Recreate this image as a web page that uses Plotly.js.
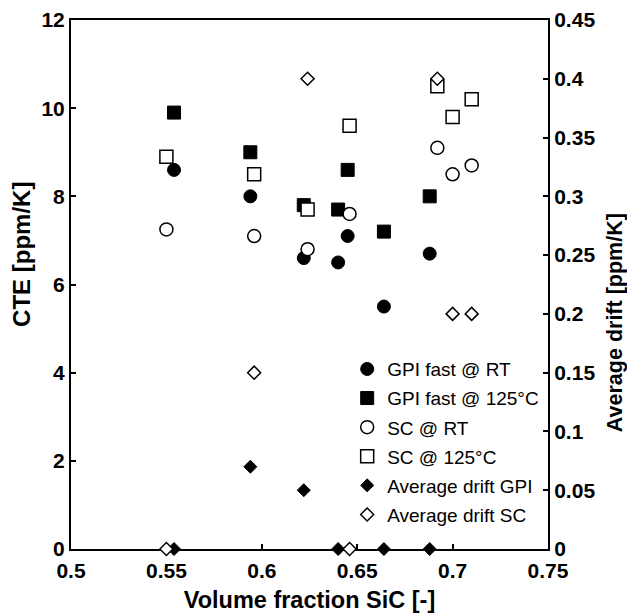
<!DOCTYPE html>
<html>
<head>
<meta charset="utf-8">
<script src="https://cdn.plot.ly/plotly-3.0.1.min.js"></script>
<style>html,body{margin:0;padding:0;background:#fff;}#chart{width:627px;height:613px;}</style>
</head>
<body>
<div id="chart"></div>
<script>
// GPI fast samples
var gpiX = [0.554, 0.594, 0.622, 0.640, 0.645, 0.664, 0.688];
var gpiRT = [8.6, 8.0, 6.6, 6.5, 7.1, 5.5, 6.7];
var gpi125 = [9.9, 9.0, 7.8, 7.7, 8.6, 7.2, 8.0];
// SC samples
var scX = [0.550, 0.596, 0.624, 0.646, 0.692, 0.700, 0.710];
var scRT = [7.25, 7.1, 6.8, 7.6, 9.1, 8.5, 8.7];
var sc125 = [8.9, 8.5, 7.7, 9.6, 10.5, 9.8, 10.2];
// Average drift
var driftGpiX = [0.554, 0.594, 0.622, 0.640, 0.664, 0.688];
var driftGpi = [0, 0.07, 0.05, 0, 0, 0];
var driftScX = [0.550, 0.596, 0.624, 0.646, 0.692, 0.700, 0.710];
var driftSc = [0, 0.15, 0.40, 0, 0.40, 0.20, 0.20];
var names = ['GPI fast @ RT', 'GPI fast @ 125°C', 'SC @ RT', 'SC @ 125°C', 'Average drift GPI', 'Average drift SC'];
var yTitleLeft = 'CTE [ppm/K]';
var yTitleRight = 'Average drift [ppm/K]';
var xTitle = 'Volume fraction SiC [-]';

var FONT = 'Liberation Sans, Arial, sans-serif';
function mk(sym, filled, size) {
  return {symbol: sym, size: size, color: filled ? '#000' : '#fff',
          line: {color: '#000', width: filled ? 1 : 1.5}};
}
var traces = [
  {x: gpiX, y: gpiRT, name: names[0], legendgroup: 'g0', mode: 'markers', marker: mk('circle', true, 13), cliponaxis: false},
  {x: gpiX, y: gpi125, name: names[1], legendgroup: 'g1', mode: 'markers', marker: mk('square', true, 13), cliponaxis: false},
  {x: scX, y: scRT, name: names[2], legendgroup: 'g2', mode: 'markers', marker: mk('circle', false, 13), cliponaxis: false},
  {x: scX, y: sc125, name: names[3], legendgroup: 'g3', mode: 'markers', marker: mk('square', false, 13), cliponaxis: false},
  {x: driftGpiX, y: driftGpi, name: names[4], legendgroup: 'g4', yaxis: 'y2', mode: 'markers', marker: mk('diamond', true, 10), cliponaxis: false},
  {x: driftScX, y: driftSc, name: names[5], legendgroup: 'g5', yaxis: 'y2', mode: 'markers', marker: mk('diamond', false, 10), cliponaxis: false}
];
var tickFont = {family: FONT, size: 21, color: '#000', weight: 'bold'};
var layout = {
  width: 627, height: 613,
  margin: {l: 71, r: 79, t: 20, b: 64},
  paper_bgcolor: '#fff', plot_bgcolor: '#fff',
  showlegend: true,
  legend: {x: 0.579, y: 0.376, xanchor: 'left', yanchor: 'top', bgcolor: 'rgba(0,0,0,0)',
           font: {family: FONT, size: 19, color: '#000'}, itemsizing: 'trace', tracegroupgap: 1.4},
  xaxis: {range: [0.5, 0.75], dtick: 0.05, tick0: 0.5, showgrid: false, zeroline: false,
          showline: true, linecolor: '#000', linewidth: 2, mirror: true,
          ticks: 'inside', ticklen: 5, tickwidth: 2, tickcolor: '#000', layer: 'below traces',
          tickfont: tickFont, ticklabelstandoff: 2,
          title: {text: xTitle, font: {family: FONT, size: 23.5, color: '#000', weight: 'bold'}, standoff: 10}},
  yaxis: {range: [0, 12], dtick: 2, showgrid: false, zeroline: false,
          showline: true, linecolor: '#000', linewidth: 2,
          ticks: 'inside', ticklen: 5, tickwidth: 2, tickcolor: '#000', layer: 'below traces',
          tickfont: tickFont},
  yaxis2: {range: [0, 0.45], dtick: 0.05, overlaying: 'y', side: 'right', showgrid: false, zeroline: false,
           showline: true, linecolor: '#000', linewidth: 2,
           ticks: 'inside', ticklen: 5, tickwidth: 2, tickcolor: '#000', layer: 'below traces',
           tickfont: tickFont},
  annotations: [
    {text: yTitleLeft, xref: 'paper', yref: 'paper', x: -0.1027, y: 0.556, xanchor: 'center', yanchor: 'middle',
     textangle: -90, showarrow: false, font: {family: FONT, size: 24, color: '#000', weight: 'bold'}},
    {text: yTitleRight, xref: 'paper', yref: 'paper', x: 1.1405, y: 0.427, xanchor: 'center', yanchor: 'middle',
     textangle: -90, showarrow: false, font: {family: FONT, size: 21.5, color: '#000', weight: 'bold'}}
  ]
};
Plotly.newPlot('chart', traces, layout, {displayModeBar: false, staticPlot: true});
</script>
</body>
</html>
